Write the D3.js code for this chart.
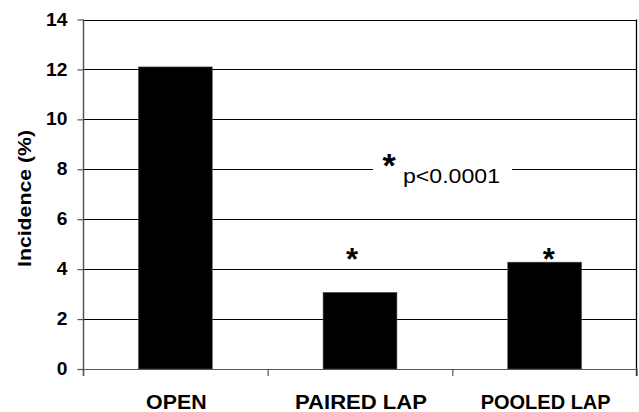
<!DOCTYPE html>
<html>
<head>
<meta charset="utf-8">
<script src="https://cdn.jsdelivr.net/npm/d3@7"></script>
<style>
  html, body { margin: 0; padding: 0; background: #fff; }
  svg { display: block; }
  text { font-family: "Liberation Sans", Arial, sans-serif; }
</style>
</head>
<body>
<svg id="chart" width="639" height="412"></svg>
<script>
const categories = ["OPEN", "PAIRED LAP", "POOLED LAP"];
const values = [12.1, 3.07, 4.28];
const yTicks = [0, 2, 4, 6, 8, 10, 12, 14];
const starred = ["PAIRED LAP", "POOLED LAP"];
const annotationText = "p<0.0001";
const annotationLevel = 8;

(function () {
const svg = d3.select("#chart");
const pLeft = 83, pRight = 637, pTop = 19.5, pBottom = 369;

const y = d3.scaleLinear().domain([0, 14]).range([pBottom, pTop]);
const xCat = d3.scaleBand().domain(categories).range([pLeft, pRight]);
const xBar = d3.scaleBand().domain(categories).range([pLeft, pRight])
  .paddingInner(0.6).paddingOuter(0.3);

// gridlines
svg.append("g").selectAll("line").data(yTicks.filter(d => d > 0)).join("line")
  .attr("x1", pLeft).attr("x2", pRight)
  .attr("y1", d => Math.round(y(d)) + 0.5).attr("y2", d => Math.round(y(d)) + 0.5)
  .attr("stroke", "#000").attr("stroke-width", 1);

// right border
svg.append("line")
  .attr("x1", pRight - 0.5).attr("x2", pRight - 0.5)
  .attr("y1", pTop).attr("y2", pBottom + 7)
  .attr("stroke", "#000").attr("stroke-width", 1.3);

// bars
svg.append("g").selectAll("rect").data(categories).join("rect")
  .attr("x", d => xBar(d))
  .attr("width", xBar.bandwidth())
  .attr("y", (d, i) => y(values[i]))
  .attr("height", (d, i) => pBottom - y(values[i]))
  .attr("fill", "#000")
  .attr("stroke", "#555").attr("stroke-width", 0.6);

// y axis
const yAxis = d3.axisLeft(y).tickValues(yTicks).tickSize(6).tickPadding(10)
  .tickFormat(d3.format("d"));
const gy = svg.append("g").attr("transform", `translate(${pLeft + 0.5},0)`).call(yAxis);
gy.select(".domain").remove();
gy.selectAll(".tick line").attr("stroke", "#555").attr("stroke-width", 1.2);
gy.selectAll(".tick text")
  .attr("fill", "#000").attr("font-size", 17.5).attr("font-weight", "bold")
  .attr("font-family", "Liberation Sans, Arial, sans-serif")
  .attr("textLength", d => String(d).length * 10.7)
  .attr("lengthAdjust", "spacingAndGlyphs");
svg.append("line")
  .attr("x1", pLeft + 0.5).attr("x2", pLeft + 0.5)
  .attr("y1", pTop).attr("y2", pBottom + 7)
  .attr("stroke", "#555").attr("stroke-width", 1.5);

// x axis
svg.append("line")
  .attr("x1", pLeft).attr("x2", pRight)
  .attr("y1", pBottom + 0.5).attr("y2", pBottom + 0.5)
  .attr("stroke", "#555").attr("stroke-width", 1.2);
const bounds = categories.map(c => xCat(c)).concat([pRight - 0.5]);
svg.append("g").selectAll("line").data(bounds).join("line")
  .attr("x1", d => d + 0.5).attr("x2", d => d + 0.5)
  .attr("y1", pBottom).attr("y2", pBottom + 7)
  .attr("stroke", "#555").attr("stroke-width", 1.2);

const catWidths = { "OPEN": 60.5, "PAIRED LAP": 132, "POOLED LAP": 130 };
svg.append("g").selectAll("text").data(categories).join("text")
  .attr("x", d => xCat(d) + xCat.bandwidth() / 2 + 1)
  .attr("y", 409)
  .attr("text-anchor", "middle")
  .attr("font-size", 19.5).attr("font-weight", "bold")
  .attr("textLength", d => catWidths[d])
  .attr("lengthAdjust", "spacingAndGlyphs")
  .text(d => d);

// y title
svg.append("text")
  .attr("transform", `translate(31,198.5) rotate(-90)`)
  .attr("text-anchor", "middle")
  .attr("font-size", 18.5).attr("font-weight", "bold")
  .attr("textLength", 137).attr("lengthAdjust", "spacingAndGlyphs")
  .text("Incidence (%)");

// annotation: gap in gridline + text
const ay = Math.round(y(annotationLevel)) + 0.5;
svg.append("rect").attr("x", 373).attr("y", ay - 3).attr("width", 139).attr("height", 6).attr("fill", "#fff");
svg.append("text")
  .attr("x", 389).attr("y", 177)
  .attr("text-anchor", "middle")
  .attr("font-size", 34).attr("font-weight", "bold")
  .text("*");
svg.append("text")
  .attr("x", 403).attr("y", 183)
  .attr("font-size", 21)
  .attr("textLength", 97).attr("lengthAdjust", "spacingAndGlyphs")
  .text(annotationText);

// asterisks above bars
svg.append("g").selectAll("text").data(starred).join("text")
  .attr("x", d => xBar(d) + xBar.bandwidth() / 2 - 8 + (d === "POOLED LAP" ? 12 : 0))
  .attr("y", 270)
  .attr("text-anchor", "middle")
  .attr("font-size", 31).attr("font-weight", "bold")
  .text("*");
})();
</script>
</body>
</html>
